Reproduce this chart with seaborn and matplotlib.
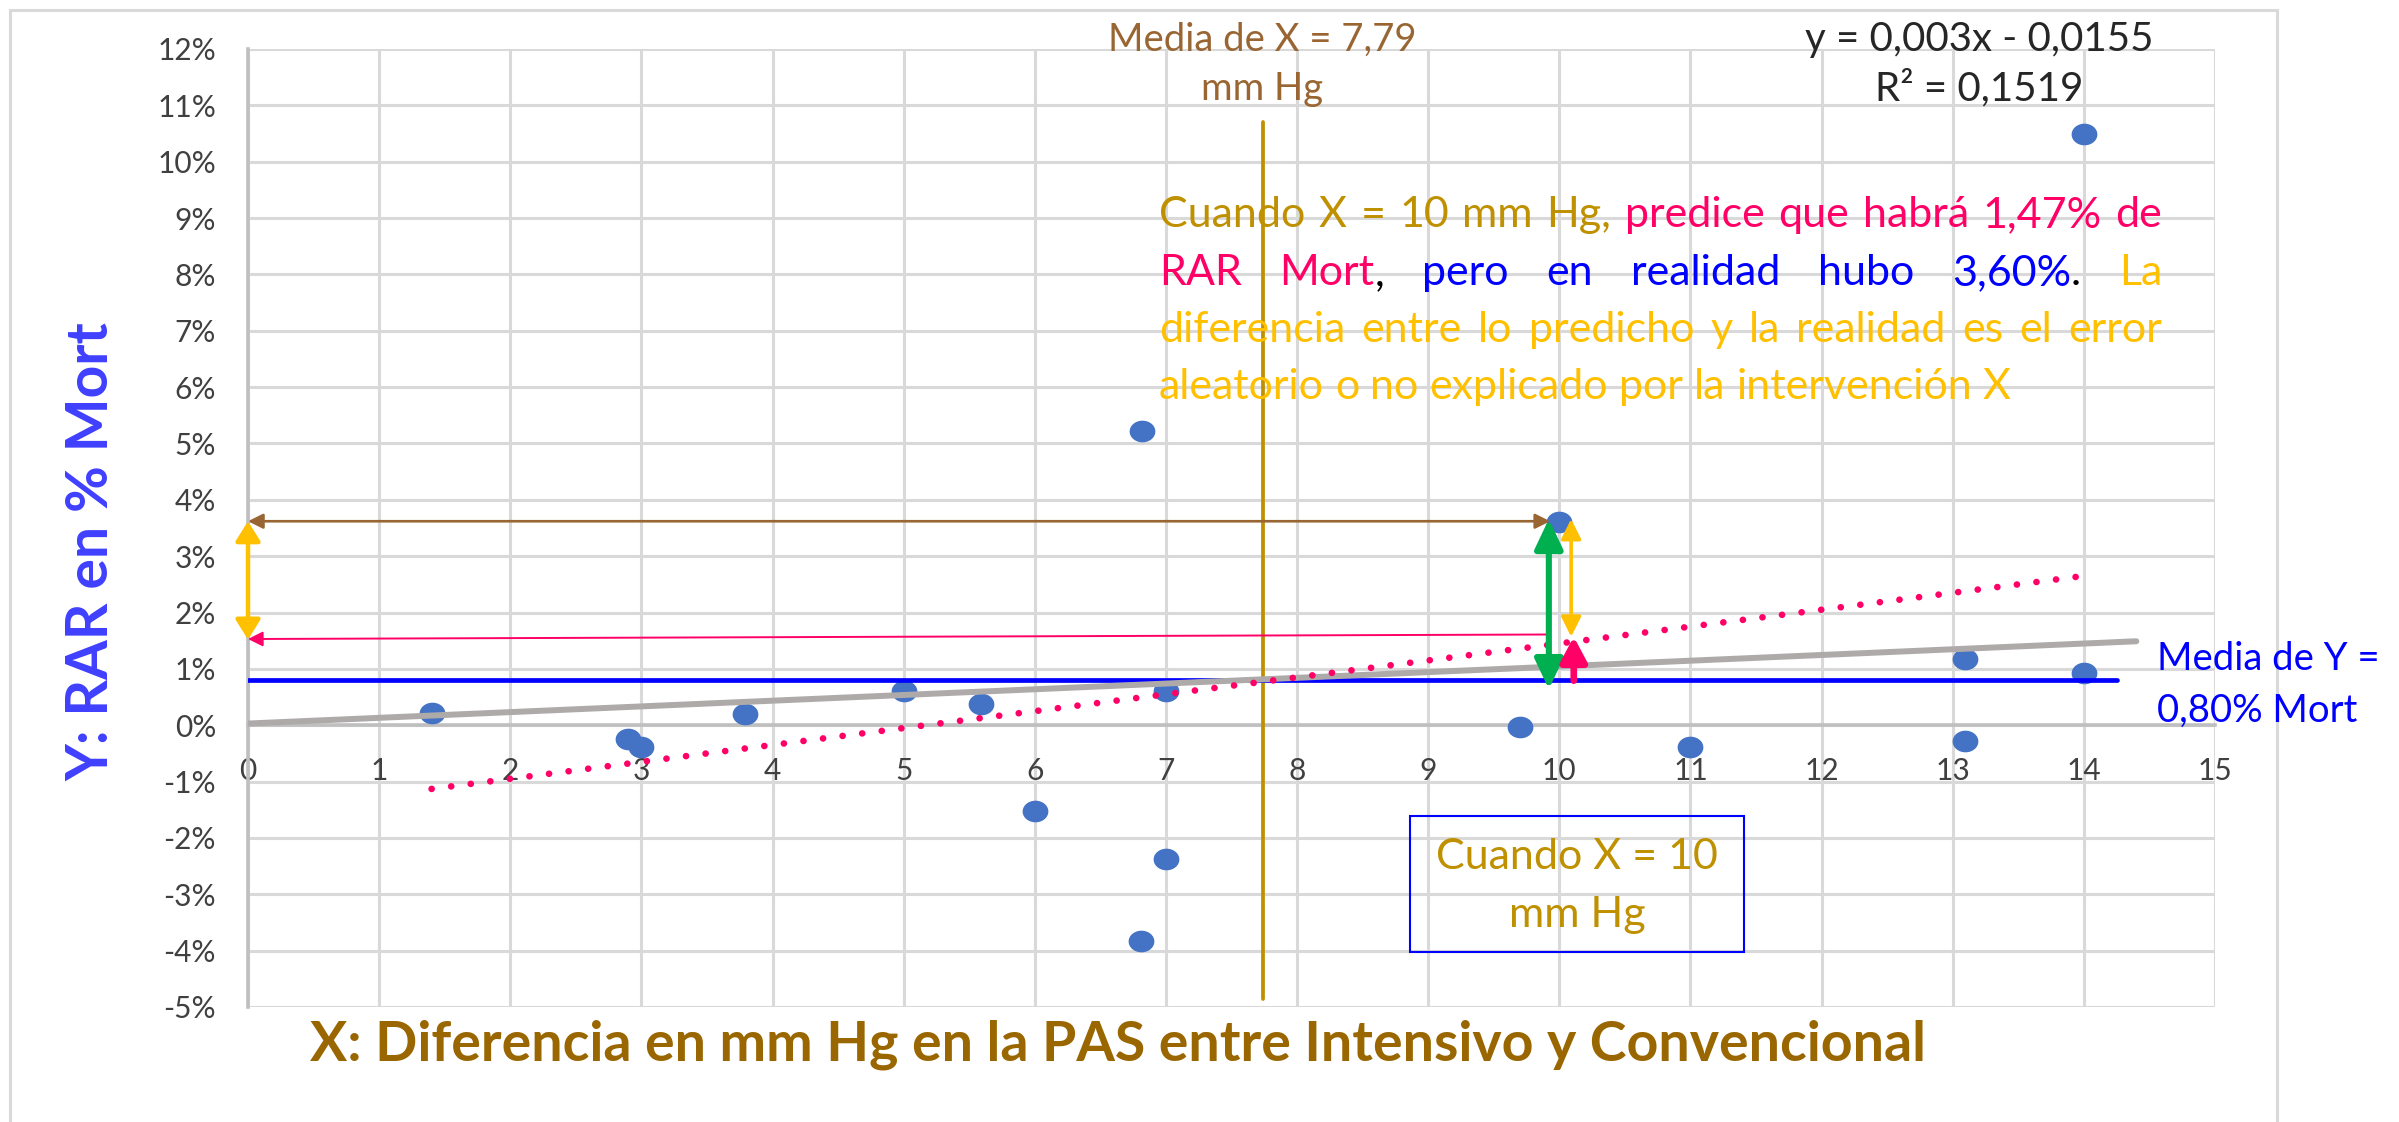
import numpy as np
import matplotlib
import matplotlib.pyplot as plt
import seaborn as sns
from matplotlib.path import Path
from matplotlib.patches import Rectangle

matplotlib.use("Agg")

# Values (x in mm Hg, y as a fraction)
x_mmhg = [1.40, 2.90, 3.00, 3.79, 5.00, 5.59, 6.00, 6.82, 7.00,
          7.00, 6.81, 9.70, 10.00, 11.00, 13.09, 13.09, 14.00, 14.00]
rar_mort = [0.0022, -0.0024, -0.0038, 0.0020, 0.0060, 0.0038, -0.0152, 0.0522, 0.0061,
            -0.0238, -0.0382, -0.0003, 0.0361, -0.0039, 0.0118, -0.0028, 0.0092, 0.1050]

# Trendline as printed on the chart
trend_slope = 0.003
trend_intercept = -0.0155

# Reference lines drawn on the chart
mean_x = 7.74
mean_x_span = [-0.0485, 0.107]
mean_y = 0.008
mean_y_span = [-0.19, 14.25]
gray_x = [0.0, 14.4]
gray_y = [0.0003, 0.0149]

x_ticks = list(range(0, 16))
y_ticks = [v / 100 for v in range(-5, 13)]
y_tick_labels = [f"{v}%" for v in range(-5, 13)]

GOLD = "#BF9000"
PINK = "#FF0066"
BLUE = "#0000FF"
YELLOW = "#FFC000"
GREEN = "#00B050"
BROWN = "#996633"
BLACK = "#000000"

paragraph = [
    [("Cuando X = 10 mm Hg,", GOLD), (" predice que habrá 1,47% de", PINK)],
    [("RAR Mort", PINK), (",", BLACK), (" pero en realidad hubo 3,60%", BLUE), (".", BLACK), (" La", YELLOW)],
    [("diferencia entre lo predicho y la realidad es el error", YELLOW)],
    [("aleatorio o no explicado por la intervención X", YELLOW)],
]

sns.set_theme(style="white")
plt.rcParams["font.family"] = ["Lato", "DejaVu Sans"]
plt.rcParams["axes.unicode_minus"] = False

W, H = 2399, 1122
fig = plt.figure(figsize=(W / 100, H / 100), dpi=100)
fig.patch.set_facecolor("white")
ax = fig.add_axes([248 / W, 1 - 1007 / H, (2215 - 248) / W, (1007 - 49) / H])

# chart-area border
fig.add_artist(Rectangle((10 / W, -0.02), (2277 - 10) / W, 1.02 - 10 / H,
                         transform=fig.transFigure, fill=False, ec="#D9D9D9", lw=2.2))

ax.set_xlim(0, 15)
ax.set_ylim(-0.05, 0.12)
ax.set_xticks(x_ticks)
ax.set_xticklabels([str(v) for v in x_ticks])
ax.set_yticks(y_ticks)
ax.set_yticklabels(y_tick_labels)
ax.grid(True, color="#D9D9D9", lw=2.2)
ax.set_axisbelow(True)
for s in ["top", "right"]:
    ax.spines[s].set_visible(False)
ax.spines["bottom"].set_position(("data", 0))
for s in ["left", "bottom"]:
    ax.spines[s].set_color("#BFBFBF")
    ax.spines[s].set_linewidth(2.6)
ax.tick_params(axis="both", length=0, labelsize=21.5, labelcolor="#404040")
ax.tick_params(axis="y", pad=23)
ax.tick_params(axis="x", pad=23)

# points (slightly wide ellipse like the original)
t = np.linspace(0, 2 * np.pi, 40)
ellipse = Path(np.column_stack([np.cos(t), 0.84 * np.sin(t)]))
sns.scatterplot(x=x_mmhg, y=rar_mort, marker=ellipse, s=345, color="#4472C4",
                linewidth=0, ax=ax, zorder=3)

# reference lines
ax.plot([mean_x, mean_x], mean_x_span, color=GOLD, lw=2.7, zorder=4)
ax.plot(mean_y_span, [mean_y, mean_y], color=BLUE, lw=3.4, zorder=4)
sns.lineplot(x=gray_x, y=gray_y, color="#AEAAAA", lw=4.3, ax=ax, zorder=5)

# Excel trendline y = 0,003x - 0,0155
tx = np.array([min(x_mmhg), max(x_mmhg)])
sns.lineplot(x=tx, y=trend_slope * tx + trend_intercept, color=PINK, lw=4.8,
             linestyle=(0, (0.01, 2.95)), dash_capstyle="round", ax=ax, zorder=6)


def arrow(p0, p1, color, lw, hl, hw, style="-|>"):
    ax.annotate("", xy=p1, xytext=p0,
                arrowprops=dict(arrowstyle=f"{style},head_length={hl},head_width={hw}",
                                color=color, lw=lw, shrinkA=0, shrinkB=0,
                                mutation_scale=1),
                zorder=7)


arrow((0, 0.0362), (9.93, 0.0362), BROWN, 1.9, 9, 4.5, "<|-|>")
arrow((9.9, 0.0161), (0, 0.0153), PINK, 1.4, 9, 4.5)
arrow((0, 0.0362), (0, 0.0152), YELLOW, 3.2, 12, 7.5, "<|-|>")
arrow((9.92, 0.0366), (9.92, 0.0064), GREEN, 4.4, 18, 8.5, "<|-|>")
arrow((10.09, 0.0366), (10.09, 0.0157), YELLOW, 2.6, 12, 6, "<|-|>")
arrow((10.11, 0.0079), (10.11, 0.0157), PINK, 4.8, 15, 8)

# box "Cuando X = 10 mm Hg"
ax.add_patch(Rectangle((8.86, -0.0402), 2.55, 0.0241, fill=False, ec=BLUE, lw=1.5, zorder=4))

ax.set_xlabel("X: Diferencia en mm Hg en la PAS entre Intensivo y Convencional",
              fontsize=40, fontweight="bold", color="#996600", va="baseline")
ax.xaxis.set_label_coords((1118 - 248) / 1967, (1007 - 1061) / 958)
ax.set_ylabel("Y: RAR en % Mort", fontsize=41, fontweight="bold", color="#3F3FFF", va="center")
ax.yaxis.set_label_coords((92 - 248) / 1967, (1007 - 552) / 958)


def fig_text(x, y, s, **kw):
    return fig.text(x / W, 1 - y / H, s, va="baseline", **kw)


fig_text(1262, 51, "Media de X = 7,79", ha="center", color=BROWN, fontsize=27.5)
fig_text(1262, 100, "mm Hg", ha="center", color=BROWN, fontsize=27.5)
fig_text(1979, 51, "y = 0,003x - 0,0155", ha="center", color="#262626", fontsize=29)
fig_text(1979, 100, "R² = 0,1519", ha="center", color="#262626", fontsize=29)
fig_text(2157, 670, "Media de Y =", ha="left", color=BLUE, fontsize=27.5)
fig_text(2157, 722, "0,80% Mort", ha="left", color=BLUE, fontsize=27.5)
fig_text(1577, 869, "Cuando X = 10", ha="center", color=GOLD, fontsize=31)
fig_text(1577, 927, "mm Hg", ha="center", color=GOLD, fontsize=31)

# justified, multi-coloured paragraph
renderer = fig.canvas.get_renderer()
PSIZE = 31


def text_width(s):
    tt = fig.text(0, 0, s, fontsize=PSIZE)
    w = tt.get_window_extent(renderer=renderer).width
    tt.remove()
    return w


def to_words(spans):
    words = [[]]
    for text, color in spans:
        for i, part in enumerate(text.split(" ")):
            if i > 0:
                words.append([])
            if part:
                words[-1].append((part, color))
    return [w for w in words if w]


space_w = text_width("n n") - text_width("nn")
x0, x1 = 1159, 2162
baselines = [227, 285, 342, 399]
for i, spans in enumerate(paragraph):
    words = to_words(spans)
    widths = [[text_width(s) for s, c in w] for w in words]
    total = sum(sum(ws) for ws in widths)
    last = i == len(paragraph) - 1
    gap = space_w if last else max((x1 - x0 - total) / (len(words) - 1), 0.7 * space_w)
    x = x0
    for w, ws in zip(words, widths):
        xx = x
        for (s, c), tw in zip(w, ws):
            fig_text(xx, baselines[i], s, ha="left", color=c, fontsize=PSIZE)
            xx += tw
        x += sum(ws) + gap

fig.savefig("out.png", dpi=100)
